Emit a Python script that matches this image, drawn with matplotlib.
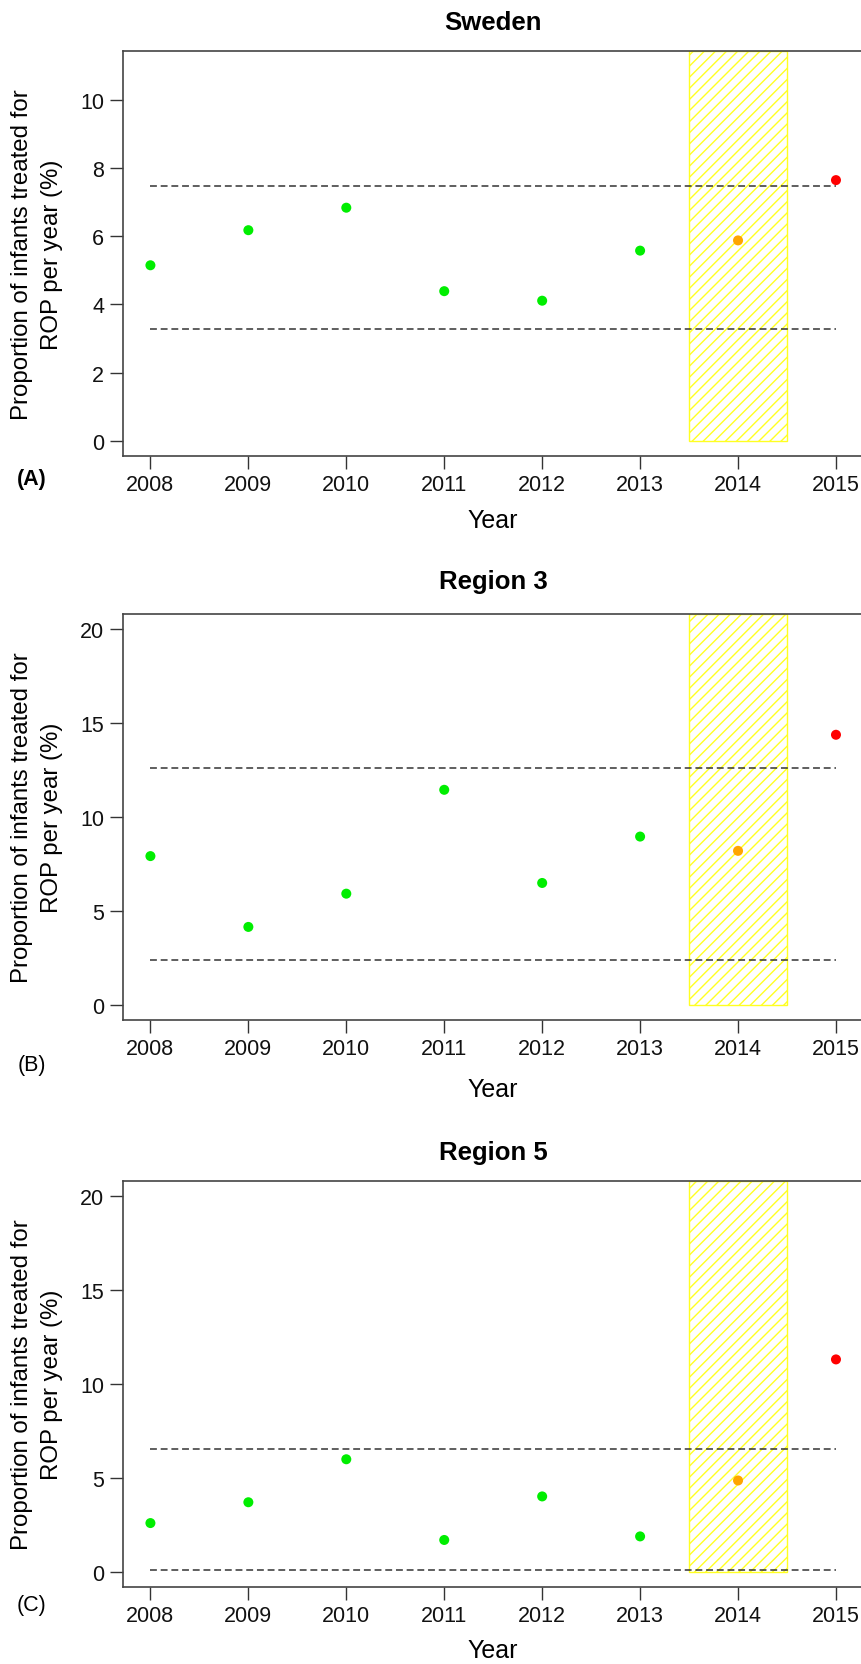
import matplotlib
matplotlib.use('Agg')
import matplotlib.pyplot as plt

plt.rcParams['font.family'] = ['Liberation Sans', 'DejaVu Sans']

W, H = 862, 1665   # figure size in pixels (dpi 100)

# data
years = [2008, 2009, 2010, 2011, 2012, 2013, 2014, 2015]
titles = ['Sweden', 'Region 3', 'Region 5']
panel_tags = ['(A)', '(B)', '(C)']
sweden = [5.15, 6.18, 6.84, 4.39, 4.11, 5.58, 5.88, 7.65]
region3 = [7.91, 4.14, 5.91, 11.44, 6.48, 8.95, 8.19, 14.37]
region5 = [2.59, 3.70, 5.99, 1.69, 4.01, 1.88, 4.86, 11.31]
upper_limit = [7.48, 12.60, 6.55]
lower_limit = [3.29, 2.36, 0.10]
y_max = [11, 20, 20]
y_ticks = [[0, 2, 4, 6, 8, 10], [0, 5, 10, 15, 20], [0, 5, 10, 15, 20]]
highlight_year = 2014
ylab_lines = ['Proportion of infants treated for', 'ROP per year (%)']

point_colors = ['#00ee00'] * 6 + ['#ffa500', '#ff0000']

# layout in pixels (top, bottom of axes box), tags and labels
ax_left, ax_right = 123, 863.4
boxes = [(52, 456.7), (615, 1020.7), (1182.3, 1587.7)]
title_y = [23, 582, 1153]
tag_y = [479, 1065, 1606]
tag_bold = [True, False, False]
year_y = [521, 1090, 1651]
ylab_x = [22, 52]

fig = plt.figure(figsize=(W / 100, H / 100), dpi=100)
series = [sweden, region3, region5]

for i in range(3):
    top, bot = boxes[i]
    ax = fig.add_axes([ax_left / W, 1 - bot / H,
                       (ax_right - ax_left) / W, (bot - top) / H])
    vals = series[i]
    ym = y_max[i]

    # hatched yellow block over the highlighted year
    ax.bar(highlight_year, ym * 1.04, width=1, bottom=0, fill=False,
           hatch='///', edgecolor='#ffff22', linewidth=1.0, zorder=1)

    ax.hlines([upper_limit[i], lower_limit[i]], years[0], years[-1],
              colors='#333333', linestyles=(0, (4.5, 2.5)), linewidth=1.1,
              zorder=2)
    ax.scatter(years, vals, s=52, c=point_colors, edgecolors='none',
               zorder=3)

    ax.set_xlim(years[0] - 0.04 * 7, years[-1] + 0.04 * 7)
    ax.set_ylim(-0.04 * ym, ym * 1.04)
    ax.set_xticks(years)
    ax.set_yticks(y_ticks[i])
    ax.tick_params(direction='out', length=9.5, width=1.0, color='#333333',
                   labelsize=15.5, labelcolor='#111111')
    ax.tick_params(axis='x', pad=4)
    ax.tick_params(axis='y', pad=4)
    for s in ax.spines.values():
        s.set_color('#444444')
        s.set_linewidth(1.2)

    pos = ax.get_position()
    xc = pos.x0 + pos.width / 2
    fig.text(xc, 1 - title_y[i] / H, titles[i], ha='center', va='center',
             fontsize=18.5, fontweight='bold')
    fig.text(xc, 1 - year_y[i] / H, 'Year', ha='center', va='center',
             fontsize=18)
    fig.text(32 / W, 1 - tag_y[i] / H, panel_tags[i], ha='center',
             va='center', fontsize=15.5,
             fontweight='bold' if tag_bold[i] else 'normal')
    for lx, line in zip(ylab_x, ylab_lines):
        fig.text(lx / W, 1 - (top + bot) / 2 / H, line, rotation=90,
                 ha='center', va='center', fontsize=17.3)

fig.savefig('out.png', dpi=100)
